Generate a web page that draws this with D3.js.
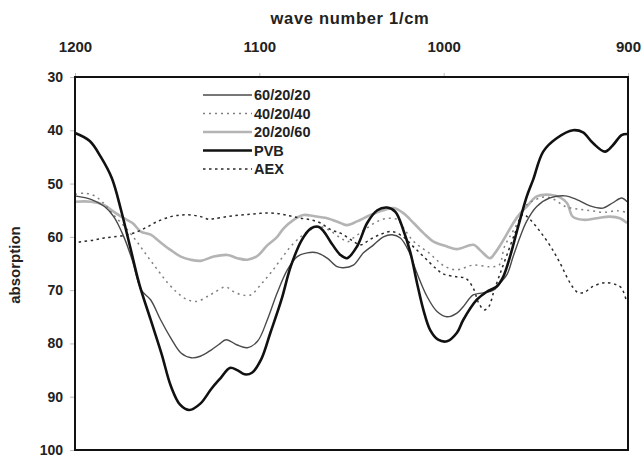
<!DOCTYPE html>
<html>
<head>
<meta charset="utf-8">
<script src="https://cdn.jsdelivr.net/npm/d3@7"></script>
<style>
  html, body { margin: 0; padding: 0; background: #fff; }
  svg { display: block; }
  text { font-family: "Liberation Sans", Arial, sans-serif; font-weight: bold; fill: #222; }
</style>
</head>
<body>
<svg id="chart" width="642" height="459"></svg>
<script>
// Wave number ticks (top axis) and absorption ticks (left axis)
const xTicks = [1200, 1100, 1000, 900];
const yTicks = [30, 40, 50, 60, 70, 80, 90, 100];

// Series names in legend order
const seriesNames = ["60/20/20", "40/20/40", "20/20/60", "PVB", "AEX"];

// Spectra: [wave number, absorption]
const s602020 = [
  [1200,52.3],[1191,53],[1184,54.3],[1179,56.2],[1173.5,60],[1169,64.3],[1164,70],[1159,71.8],
  [1153.5,75.6],[1148,79],[1142.5,81.8],[1137,82.7],[1132,82.4],[1126,81.2],[1122,80.2],[1118,79.3],
  [1112,80.3],[1106.5,80.8],[1101,79.6],[1095.7,75.6],[1090.3,70.5],[1084.8,66.2],[1079.4,63.7],
  [1074,63],[1068.6,63],[1063.2,64],[1057.8,65.6],[1054.4,65.8],[1049,65.3],[1043.5,63],[1038,61.5],
  [1032.7,60],[1028,59.6],[1023.5,60.2],[1019.2,62.5],[1014.5,66.8],[1009,71.2],[1003.6,74],
  [998.2,75],[992.8,74.3],[989.4,73.1],[984,70.9],[978.6,70.5],[973,70],[969.4,68.7],[965.7,67.1],
  [962.3,63.7],[958.5,60],[955,57.1],[949.5,54.3],[942.3,52.7],[934.2,52.3],[927.8,53],[920.6,54.2],
  [913.6,54.6],[908.2,53.6],[903.5,52.7],[900.5,53.4]
];
const s402040 = [
  [1200,52],[1195,51.8],[1190,52.2],[1185,53.5],[1179,55.9],[1171.5,58.7],[1166,61.1],[1160.6,63.7],
  [1155.2,66.2],[1149.8,68.6],[1144.4,70.5],[1139,71.8],[1133.6,72.1],[1128.2,71.2],[1124.7,70.5],
  [1118.2,69.4],[1113.9,70.3],[1109.2,70.9],[1104.7,70.9],[1099.3,69],[1093.9,66.8],[1088.5,64.3],
  [1083,61.8],[1077.6,60],[1072.2,58.7],[1066.8,58.1],[1061,59],[1056,60.2],[1052,60.9],[1049,60.2],
  [1043,58.7],[1036,57.1],[1030,56.5],[1025,56.8],[1021,58.7],[1017,60.6],[1013,61.8],[1008,63],
  [1003,64.6],[999,65.6],[993,66.2],[984,65.3],[975,65.6],[970,65.3],[967,61.8],[963,59.3],
  [959,56.8],[955,54],[950,53],[945,52.5],[940,53],[934,54.3],[927,54.8],[920,55.1],[913,55.4],
  [906,55.1],[900.5,55.4]
];
const s202060 = [
  [1200,53.4],[1191.3,53.4],[1184.3,54],[1178.9,55.3],[1173.5,56.5],[1168.8,57.4],[1164.3,59],
  [1158.9,59.6],[1153.4,61.1],[1148,62.5],[1142.6,63.7],[1137.2,64.3],[1131.8,64.5],[1124.7,63.7],
  [1117.3,63.4],[1111.9,64],[1106.5,64.3],[1101.1,63.6],[1095.7,61.6],[1090.3,60],[1086.8,58.4],
  [1081.4,56.8],[1076,55.9],[1070.6,56.1],[1063.2,56.5],[1056,57.4],[1052.4,57.8],[1047,57.1],
  [1039.7,55.9],[1032.7,55],[1027.1,54.6],[1021.7,55.6],[1016.3,57.4],[1010.9,59.3],[1005.5,60.9],
  [998.2,61.8],[992.8,62.3],[983.8,61.5],[980.2,62.5],[974.8,64],[972.1,63],[967.6,60.6],
  [962.2,57.4],[958.5,55.6],[954.9,54.3],[949.5,52.4],[942.3,52.1],[936.9,52.6],[933,53.7],
  [930,56.2],[924.3,56.8],[917,56.5],[909.8,56.2],[904.4,56.5],[900.5,57.4]
];
const sPVB = [
  [1200,40.5],[1192,42],[1186,45],[1180,49],[1175,55],[1170,62],[1165,69],[1159,75.5],[1153,82],
  [1148,88],[1143,91.5],[1138,92.5],[1132,91.3],[1126,88.5],[1121,86.5],[1116,84.6],[1112,85],
  [1108,85.8],[1104,85.5],[1099,83],[1094,78],[1088,71.8],[1083,65.6],[1077,60.6],[1072,58.4],
  [1068,58.1],[1065,59],[1061.4,60.9],[1056,63.4],[1052.4,64],[1047,61.8],[1041.5,57.4],[1036,55],
  [1030.7,54.5],[1026.2,55.3],[1021.9,58.7],[1018,63],[1014.5,68.6],[1011,73.7],[1007.3,77.5],
  [1003,79.3],[998.2,79.6],[992.8,78],[989.4,75.6],[982,71.8],[976.6,70.3],[971.2,69.3],
  [967.7,67.5],[964,63.7],[959.6,58.1],[954.9,52.4],[951.5,49.3],[946,44],[938.7,41.5],[929.8,40],
  [924.4,40.4],[919,42.4],[912.5,44],[908.2,42.8],[903.5,40.9],[900.5,40.7]
];
const sAEX = [
  [1198,61],[1196.8,60.9],[1189.7,60.6],[1184.3,60.2],[1178.9,60],[1171.5,59.6],[1166,59],
  [1160.6,58.1],[1155.2,57.1],[1148,56.2],[1142.6,55.9],[1137.2,55.9],[1131.8,56.2],[1127.4,56.7],
  [1124.7,56.6],[1117.3,56.2],[1110.1,55.9],[1103.1,55.7],[1095.7,55.5],[1088.5,55.7],[1083,56.1],
  [1077.6,56.5],[1072.2,56.8],[1066.8,57.4],[1061,58.7],[1056,59.3],[1050,60.6],[1045,61.5],
  [1040,60.5],[1034,59.5],[1028,59],[1022,60],[1016,62],[1010,64],[1004,66],[1000,67],[993,67.5],
  [988,67.8],[984,69.6],[981,72.4],[978,73.7],[975.5,73.1],[973,70.5],[970,67.5],[966,63.7],
  [961,59],[957,55.8],[953,56.8],[947.7,59],[942,61.8],[936.9,64.9],[931.5,68.6],[927.8,70.3],
  [924.4,70.5],[919,69.3],[912.5,68.6],[906.2,69],[903.5,69.6],[900.8,72.1]
];

const seriesData = [s602020, s402040, s202060, sPVB, sAEX];
const seriesStyle = [
  { stroke: "#4a4a4a", width: 1.4, dash: null },
  { stroke: "#808080", width: 1.5, dash: "2,4" },
  { stroke: "#b4b4b4", width: 2.6, dash: null },
  { stroke: "#111111", width: 2.6, dash: null },
  { stroke: "#2a2a2a", width: 1.5, dash: "2.5,3.5" }
];

const svg = d3.select("#chart");
const plotLeft = 75, plotRight = 628, plotTop = 77, plotBottom = 450;

const x = d3.scaleLinear().domain([1200, 900]).range([plotLeft, plotRight]);
const y = d3.scaleLinear().domain([30, 100]).range([plotTop, plotBottom]);

// Top axis: wave number
const xAxis = svg.append("g").attr("transform", `translate(0,${plotTop})`)
  .call(d3.axisTop(x).tickValues(xTicks).tickSize(4).tickPadding(21).tickFormat(d3.format("d")));
xAxis.select(".domain").remove();
xAxis.selectAll(".tick line").attr("stroke", "#bbb");
xAxis.selectAll(".tick text").style("font-size", "15px").attr("fill", "#222");

// Left axis: absorption
const yAxis = svg.append("g").attr("transform", `translate(${plotLeft},0)`)
  .call(d3.axisLeft(y).tickValues(yTicks).tickSize(5).tickPadding(7));
yAxis.select(".domain").remove();
yAxis.selectAll(".tick line").attr("stroke", "#bbb");
yAxis.selectAll(".tick text").style("font-size", "14px").attr("fill", "#222");

// Axis titles
svg.append("text").attr("x", 350).attr("y", 24).attr("text-anchor", "middle")
  .style("font-size", "16.5px").style("letter-spacing", "0.7px").text("wave number 1/cm");
svg.append("text").attr("transform", "translate(20,265) rotate(-90)").attr("text-anchor", "middle")
  .style("font-size", "15px").text("absorption");

// Spectra
const line = d3.line()
  .x(d => x(d[0]))
  .y(d => y(d[1]))
  .curve(d3.curveCatmullRom.alpha(0.5));

const order = [2, 1, 4, 0, 3];
order.forEach(i => {
  const st = seriesStyle[i];
  svg.append("path")
    .datum(seriesData[i])
    .attr("fill", "none")
    .attr("stroke", st.stroke)
    .attr("stroke-width", st.width)
    .attr("stroke-dasharray", st.dash)
    .attr("stroke-linejoin", "round")
    .attr("d", line);
});

// Plot frame
svg.append("rect")
  .attr("x", plotLeft).attr("y", plotTop)
  .attr("width", plotRight - plotLeft).attr("height", plotBottom - plotTop)
  .attr("fill", "none").attr("stroke", "#111").attr("stroke-width", 2);

// Legend
const legend = svg.append("g").attr("transform", "translate(203,95)");
seriesNames.forEach((name, i) => {
  const st = seriesStyle[i];
  const row = legend.append("g").attr("transform", `translate(0,${i * 18.5})`);
  row.append("line")
    .attr("x1", 0).attr("x2", 49).attr("y1", 0).attr("y2", 0)
    .attr("stroke", st.stroke)
    .attr("stroke-width", st.width)
    .attr("stroke-dasharray", st.dash);
  row.append("text").attr("x", 51).attr("y", 5)
    .style("font-size", "14.5px").text(name);
});
</script>
</body>
</html>
